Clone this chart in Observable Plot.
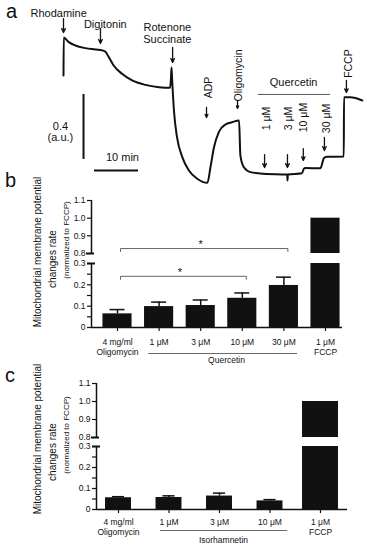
<!DOCTYPE html>
<html><head><meta charset="utf-8">
<script src="https://cdn.jsdelivr.net/npm/d3@7"></script>
<script src="https://cdn.jsdelivr.net/npm/@observablehq/plot@0.6"></script>
<style>
body{margin:0;background:#fff;}
#fig{position:relative;width:367px;height:550px;overflow:hidden;font-family:"Liberation Sans",Arial,sans-serif;color:#111;background:#fff}
#fig svg{position:absolute;left:0}
.pl{position:absolute;font-size:20px;line-height:20px}
.vt{position:absolute;white-space:nowrap;transform:translate(-50%,-50%) rotate(-90deg);line-height:1}
</style></head><body><div id="fig"></div>
<script>
// ---------- DATA ----------
// Panel a: rhodamine 123 trace (time in min, signal in a.u.)
const traceTime = [0, 0.05, 1.2, 2.7, 5.0, 8.0, 9.5, 10.3, 11.4, 13.3, 15.6, 18.6, 21.7, 24.2, 24.4, 24.55, 24.7, 25.1, 25.8, 27.0, 28.5, 30.4, 32.7, 33.4, 34.2, 35.3, 36.8, 38.3, 39.9, 40.2, 41.0, 42.5, 45.5, 50.85, 50.9, 51.0, 54.2, 54.6, 55.0, 58.4, 59.2, 59.8, 63.7, 63.75, 65.2, 67.9];
const traceSignal = [0.665, 0.898, 0.870, 0.849, 0.833, 0.823, 0.812, 0.777, 0.726, 0.675, 0.634, 0.607, 0.593, 0.589, 0.634, 0.714, 0.634, 0.449, 0.285, 0.162, 0.080, 0.029, 0.004, 0.100, 0.223, 0.316, 0.363, 0.377, 0.388, 0.172, 0.100, 0.070, 0.060, 0.055, 0.018, 0.055, 0.063, 0.090, 0.095, 0.094, 0.157, 0.164, 0.166, 0.531, 0.531, 0.511];
const eventNames = ["Rhodamine", "Digitonin", "Rotenone\nSuccinate", "ADP", "Oligomycin", "1 μM", "3 μM", "10 μM", "30 μM", "FCCP"];
const eventTimes = [0, 8.4, 24.8, 32.5, 39.55, 45.7, 50.9, 54.5, 59.3, 64.3];
const groupA = "Quercetin";
const scaleBarMinutes = 10;
const scaleBarAU = 0.4;

// Panel b
const catsB = ["Oligomycin", "Quercetin 1", "Quercetin 3", "Quercetin 10", "Quercetin 30", "FCCP"];
const tickLabelsB = ["4 mg/ml\nOligomycin", "1 μM", "3 μM", "10 μM", "30 μM", "1 μM\nFCCP"];
const meanB = [0.064, 0.098, 0.103, 0.137, 0.197, 1.0];
const semB = [0.020, 0.021, 0.026, 0.025, 0.039, 0];
const groupB = "Quercetin";

// Panel c
const catsC = ["Oligomycin", "Isorhamnetin 1", "Isorhamnetin 3", "Isorhamnetin 10", "FCCP"];
const tickLabelsC = ["4 mg/ml\nOligomycin", "1 μM", "3 μM", "10 μM", "1 μM\nFCCP"];
const meanC = [0.056, 0.057, 0.064, 0.041, 1.0];
const semC = [0.005, 0.008, 0.014, 0.006, 0];
const groupC = "Isorhamnetin";

const upperTicks = [0.8, 0.9, 1.0, 1.1];
const lowerTicks = [0, 0.05, 0.1, 0.15, 0.2, 0.25, 0.3];

// ---------- LAYOUT ----------
const W = 367, INK = "#111", FONT = "'Liberation Sans', Arial, sans-serif";
const fig = document.getElementById("fig");
const baseStyle = {background: "transparent", overflow: "visible", fontFamily: FONT, color: INK};
function place(svg, top) { svg.style.top = top + "px"; fig.appendChild(svg); return svg; }
function html(cls, text, css) { const d = document.createElement("div"); d.className = cls; d.textContent = text; Object.assign(d.style, css); fig.appendChild(d); }

// annotation layout for panel a (arrow top/bottom in a.u., label position, rotation)
const annotA = [
  {a1: 1.015, a2: 0.929, lt: -1.1, lv: 1.052, rot: 0},
  {a1: 0.954, a2: 0.862, lt: 9.5, lv: 0.985, rot: 0},
  {a1: 0.837, a2: 0.745, lt: 23.6, lv: 0.926, rot: 0},
  {a1: 0.468, a2: 0.406, lt: 33.0, lv: 0.591, rot: -90},
  {a1: 0.511, a2: 0.462, lt: 39.8, lv: 0.665, rot: -90},
  {a1: 0.178, a2: 0.098, lt: 46.1, lv: 0.400, rot: -90},
  {a1: 0.178, a2: 0.098, lt: 51.1, lv: 0.400, rot: -90},
  {a1: 0.215, a2: 0.142, lt: 54.6, lv: 0.406, rot: -90},
  {a1: 0.283, a2: 0.203, lt: 59.8, lv: 0.400, rot: -90},
  {a1: 0.634, a2: 0.560, lt: 64.8, lv: 0.738, rot: -90}
];

// ---------- PANEL A ----------
const traceRows = traceTime.map((t, i) => ({t, v: traceSignal[i]}));
const evRows = eventNames.map((name, i) => ({name, t: eventTimes[i], ...annotA[i]}));
const plotA = Plot.plot({
  width: W, height: 190, margin: 0,
  x: {domain: [0, 67.5], range: [63, 360], axis: null},
  y: {domain: [0, 1], range: [183, 20.5], axis: null},
  style: baseStyle,
  marks: [
    Plot.line(traceRows, {x: "t", y: "v", stroke: INK, strokeWidth: 2, curve: "monotone-x"}),
    Plot.arrow(evRows, {x1: "t", x2: "t", y1: "a1", y2: "a2", stroke: INK, strokeWidth: 1.3, headLength: 5, headAngle: 50}),
    Plot.text(evRows.filter(d => !d.rot), {x: "lt", y: "lv", text: "name", fontSize: 11, lineHeight: 1.15, fill: INK}),
    Plot.text(evRows.filter(d => d.rot), {x: "lt", y: "lv", text: "name", fontSize: 10.5, rotate: -90, fill: INK}),
    Plot.text([groupA], {x: 52.3, y: 0.622, text: d => d, fontSize: 11, fill: INK}),
    Plot.ruleY([0.548], {x1: 44.3, x2: 60.7, stroke: "#444", strokeWidth: 0.9}),
    // scale bars
    Plot.ruleX([{t: 4.55, v: 0.148}], {x: "t", y1: "v", y2: d => d.v + scaleBarAU, stroke: INK, strokeWidth: 2}),
    Plot.ruleY([{t: 7.05, v: 0.08}], {y: "v", x1: "t", x2: d => d.t + scaleBarMinutes, stroke: INK, strokeWidth: 2}),
    Plot.text([scaleBarAU], {x: -0.7, y: 0.317, text: d => d + "\n(a.u.)", fontSize: 11, lineHeight: 1.0, fill: INK}),
    Plot.text([scaleBarMinutes], {x: 13.4, y: 0.16, text: d => d + " min", fontSize: 11, fill: INK})
  ]
});
place(plotA, 0);

// ---------- BAR PANELS ----------
function barPanel(spec) {
  const rows = spec.cats.map((c, i) => ({i, cat: c, label: spec.labels[i], m: spec.means[i], s: spec.sems[i], hw: i === spec.cats.length - 1 ? spec.lastHalf : spec.half}));
  const xMin = (spec.frameLeft - spec.originPx) / spec.step;
  const xMax = (spec.frameRight - spec.originPx) / spec.step;
  const px = 1 / spec.step; // one pixel in index units
  const errRows = rows.filter(d => d.s > 0);
  const common = {width: W, marginLeft: spec.frameLeft, marginRight: W - spec.frameRight, x: {domain: [xMin, xMax], axis: null}, style: baseStyle};
  const upPx = (1.1 - 0.8) / (spec.y08 - spec.y11);
  const loPx = 0.3 / (spec.y0 - spec.y03);
  const bracketMarks = (list, perPx) => {
    const pts = list.flatMap((b, k) => [
      {k, x: b.from + 3 * px, y: b.y - 3 * perPx}, {k, x: b.from + 3 * px, y: b.y},
      {k, x: b.to + 4 * px, y: b.y}, {k, x: b.to + 4 * px, y: b.y - 3 * perPx}]);
    return [
      Plot.line(pts, {x: "x", y: "y", z: "k", stroke: "#555", strokeWidth: 0.9}),
      Plot.text(list, {x: d => (d.from + d.to) / 2, y: "y", text: () => "*", dy: -4, fontSize: 11, fill: INK})
    ];
  };
  const upper = Plot.plot({
    ...common, height: (spec.y08 - spec.y11) + 14, marginTop: 10, marginBottom: 4,
    y: {domain: [0.8, 1.1], axis: null},
    marks: [
      Plot.rectY(rows.filter(d => d.m > 0.8), {x1: d => d.i - d.hw, x2: d => d.i + d.hw, y1: 0.8, y2: "m", fill: INK}),
      Plot.ruleX([xMin], {y1: 0.8, y2: 1.1, stroke: INK, strokeWidth: 1.5}),
      Plot.axisY({ticks: upperTicks, tickSize: 4, tickPadding: 2, tickFormat: d => d.toFixed(1), fontSize: 8.5, label: null, strokeWidth: 1.2}),
      Plot.ruleY([0.8], {x1: xMin - 5 * px, x2: xMin + 3 * px, stroke: INK, strokeWidth: 2}),
      ...bracketMarks(spec.brackets.filter(b => b.y > 0.8), upPx)
    ]
  });
  place(upper, spec.y11 - 10);
  const lower = Plot.plot({
    ...common, height: (spec.y0 - spec.y03) + 8 + 50, marginTop: 8, marginBottom: 50,
    y: {domain: [0, 0.3], axis: null},
    marks: [
      Plot.rectY(rows, {x1: d => d.i - d.hw, x2: d => d.i + d.hw, y1: 0, y2: d => Math.min(d.m, 0.3), fill: INK}),
      Plot.ruleX(errRows, {x: "i", y1: "m", y2: d => d.m + d.s, stroke: INK, strokeWidth: 1.5}),
      Plot.ruleY(errRows, {y: d => d.m + d.s, x1: d => d.i - spec.cap, x2: d => d.i + spec.cap, stroke: INK, strokeWidth: 1.5}),
      Plot.ruleY([0], {stroke: INK, strokeWidth: 1.5}),
      Plot.ruleX([xMin], {y1: 0, y2: 0.3, stroke: INK, strokeWidth: 1.5}),
      Plot.axisY({ticks: lowerTicks, tickSize: 4, tickPadding: 2, fontSize: 8.5, label: null, strokeWidth: 1.2,
        tickFormat: d => d === 0 ? "0" : (Math.abs(d * 10 - Math.round(d * 10)) < 1e-6 ? d.toFixed(1) : "")}),
      Plot.ruleY([0.3], {x1: xMin - 4 * px, x2: xMin + 4 * px, stroke: INK, strokeWidth: 2}),
      Plot.axisX({ticks: rows.map(d => d.i), tickSize: 4, tickFormat: () => "", label: null, strokeWidth: 1.2}),
      Plot.text(rows, {x: "i", y: 0, text: "label", dy: spec.labelDy, lineAnchor: "top", fontSize: 8.5, lineHeight: 1.15, fill: INK}),
      Plot.ruleY([spec.group], {y: 0, x1: d => d.from - spec.groupPadL, x2: d => d.to + spec.groupPadR, dy: spec.groupLineDy, stroke: "#444", strokeWidth: 0.8}),
      Plot.text([spec.group], {x: d => (d.from + d.to) / 2, y: 0, text: "name", dx: spec.groupDx, dy: spec.groupLabelDy, fontSize: 8.5, fill: INK}),
      ...bracketMarks(spec.brackets.filter(b => b.y <= 0.3), loPx)
    ]
  });
  place(lower, spec.y03 - 8);
}

barPanel({
  cats: catsB, labels: tickLabelsB, means: meanB, sems: semB,
  frameLeft: 91, frameRight: 342, originPx: 117, step: 41.6, half: 0.35, lastHalf: 0.35, cap: 0.18,
  y11: 200, y08: 253, y03: 263, y0: 327,
  labelDy: 10.5, groupLineDy: 26, groupLabelDy: 33, groupPadL: 0.25, groupPadR: 0.33, groupDx: 5,
  group: {name: groupB, from: 1, to: 4},
  brackets: [{from: 0, to: 4, y: 0.828}, {from: 0, to: 3, y: 0.24}]
});
barPanel({
  cats: catsC, labels: tickLabelsC, means: meanC, sems: semC,
  frameLeft: 96, frameRight: 347, originPx: 118, step: 50.5, half: 0.257, lastHalf: 0.356, cap: 0.12,
  y11: 383, y08: 437, y03: 446, y0: 509,
  labelDy: 8.5, groupLineDy: 21, groupLabelDy: 31, groupPadL: 0.17, groupPadR: 0.35, groupDx: 4,
  group: {name: groupC, from: 1, to: 3},
  brackets: []
});

// ---------- TEXT: panel letters & y titles ----------
html("pl", "a", {left: "6px", top: "1px"});
html("pl", "b", {left: "5px", top: "170px"});
html("pl", "c", {left: "5px", top: "365px"});
for (const [cy1, cy2, cy3] of [[252, 259, 240], [439, 452, 435]]) {
  html("vt", "Mitochondrial membrane potential", {left: "38px", top: cy1 + "px", fontSize: "10px"});
  html("vt", "changes rate", {left: "53px", top: cy2 + "px", fontSize: "10px"});
  html("vt", "(normalized to FCCP)", {left: "67px", top: cy3 + "px", fontSize: "8px"});
}
</script></body></html>
